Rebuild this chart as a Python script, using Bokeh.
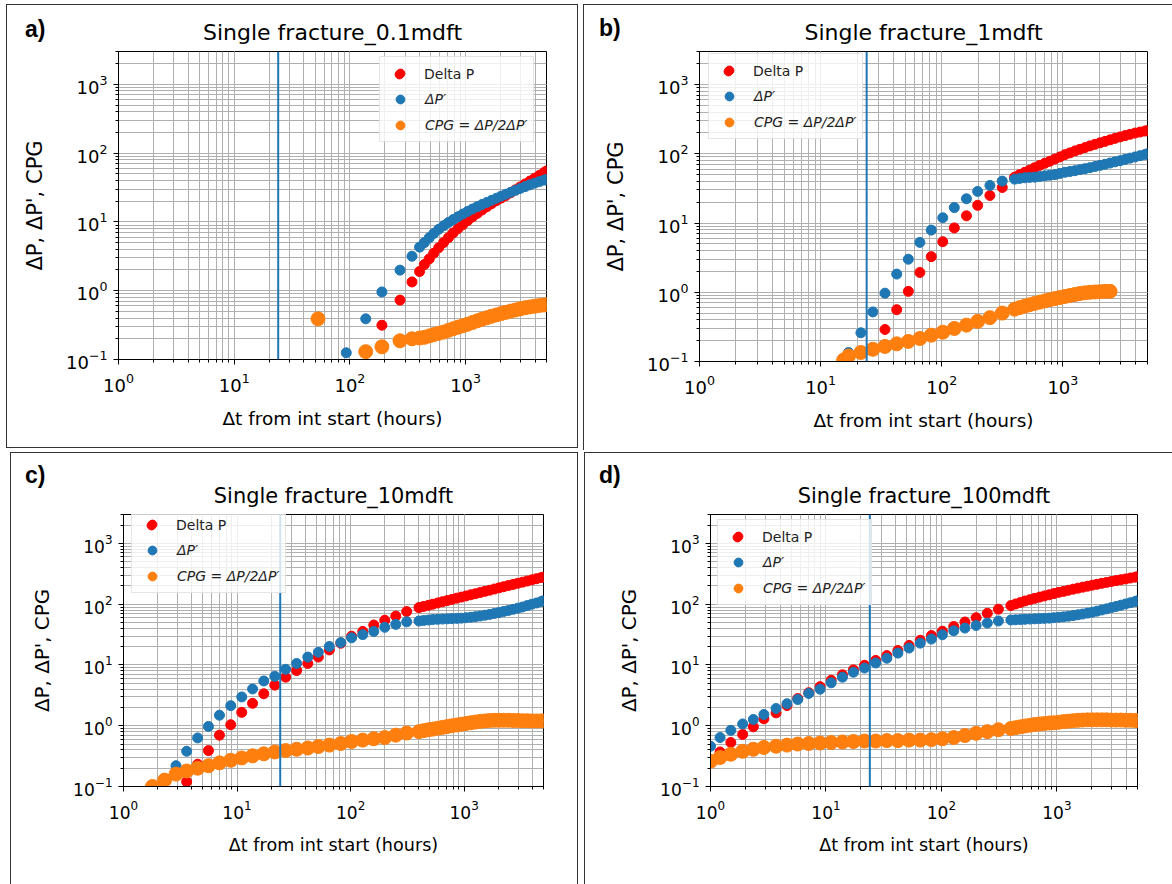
import numpy as np
from bokeh.plotting import figure
from bokeh.models import Span, Legend, LegendItem, Range1d, Div
from bokeh.layouts import row, column
from bokeh.embed import file_html
from bokeh.resources import INLINE

# ---------------- data ----------------
X_RANGE = (1, 5000)
Y_RANGE = (0.1, 3000)
EVENT_HOURS = 24

titles = ["Single fracture_0.1mdft", "Single fracture_1mdft",
          "Single fracture_10mdft", "Single fracture_100mdft"]
letters = ["a)", "b)", "c)", "d)"]
series_names = ["Delta P", "ΔP′", "CPG = ΔP/2ΔP′"]

# dense late-time steps shared by all runs (hours)
t_late = [400, 440, 485, 530, 585, 645, 710, 780, 860, 945, 1040, 1145, 1260, 1385,
          1525, 1675, 1845, 2030, 2230, 2455, 2700, 2970, 3265, 3590, 3950, 4345, 4780, 5000]

# panel a
a_t = [53, 93, 137, 189, 271, 344]
a_dp = [None, None, None, 0.315, 0.73, 1.34]
a_dpd = [None, 0.125, 0.39, 0.96, 1.99, 3.17]
a_cpg = [0.39, None, 0.13, 0.153, 0.187, 0.2]
a_dp_late = [1.9, 2.4, 2.9, 3.5, 4.2, 5.0, 5.9, 6.9, 8.0, 9.1, 10.4, 11.8, 13.3, 14.9,
             16.6, 18.4, 20.3, 22.2, 24.2, 26.5, 29.3, 32.3, 35.6, 39.2, 43.2, 47.6, 52.5, 55.0]
a_dpd_late = [4.3, 5.0, 5.9, 6.8, 7.8, 8.8, 9.8, 10.8, 11.9, 13.0, 14.2, 15.4, 16.6, 17.9,
              19.2, 20.6, 22.1, 23.7, 25.3, 27.0, 28.8, 30.7, 32.6, 34.6, 36.6, 38.6, 40.5, 41.5]
a_cpg_late = [0.205, 0.21, 0.22, 0.23, 0.24, 0.25, 0.265, 0.28, 0.295, 0.31, 0.325, 0.345, 0.365, 0.385,
              0.405, 0.425, 0.445, 0.465, 0.485, 0.505, 0.525, 0.545, 0.565, 0.58, 0.595, 0.61, 0.62, 0.625]

# panel b
b_t = [15.5, 17, 21.5, 27, 34, 42.5, 53, 66, 82, 102, 127, 160, 198, 250, 316]
b_dp = [None, None, None, None, 0.29, 0.56, 1.03, 1.93, 3.27, 5.37, 8.5, 12.7, 18, 25, 32.6]
b_dpd = [None, 0.135, 0.26, 0.52, 0.97, 1.83, 3.0, 5.25, 7.9, 11.9, 16.7, 22.4, 28.6, 34.9, 40.3]
b_cpg = [0.105, 0.12, 0.135, 0.15, 0.165, 0.18, 0.195, 0.215, 0.24, 0.265, 0.3, 0.335, 0.38, 0.43, 0.5]
b_dp_late = [46, 50, 54, 58, 63, 68, 73, 78, 84, 90, 97, 103, 110, 116,
             123, 130, 137, 144, 151, 159, 167, 175, 183, 191, 199, 206, 213, 216]
b_dpd_late = [43, 44, 45, 45.5, 46, 47, 48, 49, 50, 52, 54, 55.5, 57, 59,
              61, 63, 65.5, 68, 70.5, 73.5, 76.5, 79.5, 83, 86.5, 90, 94, 98, 100]
b_cpg_late = [0.57, 0.6, 0.63, 0.66, 0.69, 0.72, 0.75, 0.78, 0.81, 0.84, 0.87, 0.9, 0.93, 0.96,
              0.98, 1.0, 1.01, 1.02, 1.03, 1.03, None, None, None, None, None, None, None, None]

# panel c
c_t = [1.8, 2.3, 2.9, 3.6, 4.5, 5.6, 7.0, 8.8, 11, 13.7, 17.2, 21.5, 26.8, 33.5, 42, 52,
       65, 82, 102, 128, 160, 200, 250, 312]
c_dp = [None, None, None, 0.12, 0.233, 0.39, 0.70, 1.04, 1.66, 2.34, 3.36, 4.66, 6.3, 8.1,
        10.6, 13.5, 17.7, 22.8, 29.8, 35.7, 45.5, 54.6, 63.8, 75.7]
c_dpd = [None, None, 0.22, 0.38, 0.63, 0.975, 1.49, 2.14, 2.98, 4.03, 5.46, 6.5, 8.5, 10.6,
         13.5, 16.2, 20.2, 23.4, 28, 31.6, 35.7, 41.7, 46.6, 51.3]
c_cpg = [0.1, 0.127, 0.16, 0.18, 0.2, 0.22, 0.245, 0.27, 0.295, 0.32, 0.345, 0.37, 0.39, 0.41,
         0.43, 0.455, 0.48, 0.51, 0.55, 0.58, 0.61, 0.64, 0.7, 0.76]
c_dp_late = [88, 92, 96, 100, 105, 110, 115, 120, 126, 131, 137, 143, 149, 156,
             163, 170, 178, 186, 194, 203, 212, 221, 231, 241, 252, 263, 275, 280]
c_dpd_late = [53, 54, 55, 56, 56.5, 57, 57.5, 58, 58.5, 59, 60, 61, 62.5, 64,
              66, 68, 70.5, 73, 76, 79, 82.5, 86, 90, 95, 100, 105, 111, 114]
c_cpg_late = [0.8, 0.83, 0.86, 0.88, 0.91, 0.94, 0.97, 1.0, 1.03, 1.06, 1.09, 1.12, 1.15, 1.18,
              1.2, 1.22, 1.23, 1.23, 1.23, 1.23, 1.22, 1.22, 1.21, 1.21, 1.2, 1.2, 1.2, 1.2]

# panel d
d_t = [1.0, 1.21, 1.5, 1.9, 2.35, 2.9, 3.7, 4.6, 5.7, 7.1, 8.9, 11.1, 13.9, 17.3, 21.6, 27,
       33.7, 42, 52.5, 65.6, 82, 102, 128, 160, 200, 250, 312]
d_dp = [0.26, 0.37, 0.53, 0.72, 0.96, 1.30, 1.63, 2.15, 2.8, 3.5, 4.4, 5.6, 6.9, 8.3, 9.9, 11.9,
        14.3, 17.3, 21, 25.5, 30.5, 36, 43, 51, 60, 71, 83]
d_dpd = [0.46, 0.64, 0.84, 1.07, 1.27, 1.53, 1.92, 2.3, 2.7, 3.4, 4.0, 5.1, 6.3, 7.6, 8.9, 10.8,
         12.9, 15.7, 19, 22.9, 26.7, 31.4, 36.5, 40.5, 44.7, 49, 53]
d_cpg = [0.26, 0.3, 0.34, 0.38, 0.41, 0.44, 0.46, 0.48, 0.5, 0.51, 0.52, 0.53, 0.54, 0.55, 0.56, 0.56,
         0.57, 0.57, 0.58, 0.58, 0.59, 0.61, 0.64, 0.69, 0.75, 0.8, 0.86]
d_dp_late = [95, 101, 107, 113, 119, 125, 131, 137, 143, 150, 157, 163, 170, 177,
             184, 191, 198, 206, 213, 221, 229, 237, 245, 253, 261, 270, 279, 284]
d_dpd_late = [55, 55.5, 56, 56.5, 57, 57.5, 58, 58.5, 59, 60, 61, 62, 63.5, 65,
              67, 69, 71.5, 74, 77, 80.5, 84, 88, 92, 96.5, 101, 106, 111, 114]
d_cpg_late = [0.9, 0.93, 0.96, 0.99, 1.02, 1.05, 1.07, 1.09, 1.11, 1.12, 1.14, 1.17, 1.19, 1.21,
              1.23, 1.24, 1.25, 1.25, 1.25, 1.25, 1.25, 1.24, 1.24, 1.24, 1.23, 1.23, 1.22, 1.22]

# ---------------- styling ----------------
RED = "#ff0000"
BLUE = "#1f77b4"
ORANGE = "#ff7f0e"
GRID = "#b0b0b0"
FONT = "DejaVu Sans"


def to_arr(v):
    return np.array([np.nan if x is None else x for x in v], dtype=float)


def series(t_early, early, late):
    t = np.concatenate([np.array(t_early, dtype=float), np.array(t_late, dtype=float)])
    y = np.concatenate([to_arr(early), to_arr(late)])
    m = ~np.isnan(y)
    return t[m], y[m]


PAD, GW, GH, SP = 5, 30, 22, 4
LEG_H1 = 2 * PAD + 3 * GH + 2 * SP
LEG_H2 = 2 * PAD + GH


def px(v):
    return f"{v:.1f}px"


def make_panel(title, t_early, dp, dpd, cpg, dp_late, dpd_late, cpg_late,
               size, frame, margin, leg_xy, shadow, fs):
    w, h = size
    fl, fr, ft, fb = frame
    p = figure(width=w, height=h, x_axis_type="log", y_axis_type="log",
               x_range=Range1d(*X_RANGE), y_range=Range1d(*Y_RANGE),
               output_backend="svg", toolbar_location=None,
               min_border_left=fl, min_border_right=w - fr,
               min_border_top=ft, min_border_bottom=h - fb,
               title=title, margin=margin)
    p.border_fill_color = None
    p.background_fill_color = "white"
    p.styles = {"box-shadow": shadow, "background-color": "white"}
    p.outline_line_color = "black"
    p.outline_line_width = 1
    p.title.text_font = FONT
    p.title.text_font_size = px(22 * fs)
    p.title.text_font_style = "normal"
    p.title.align = "center"
    p.title.text_color = "black"
    p.title.standoff = 13

    for ax in (p.xaxis[0], p.yaxis[0]):
        ax.axis_line_color = "black"
        ax.major_tick_line_color = "black"
        ax.minor_tick_line_color = "black"
        ax.major_tick_in = 0
        ax.major_tick_out = 5
        ax.minor_tick_in = 0
        ax.minor_tick_out = 3
        ax.major_label_text_font = FONT
        ax.major_label_text_font_size = px(18 * fs)
        ax.major_label_text_color = "black"
        ax.axis_label_text_font = FONT
        ax.axis_label_text_font_style = "normal"
        ax.axis_label_text_color = "black"
    p.xaxis.axis_label = "Δt from int start (hours)"
    p.yaxis.axis_label = "ΔP, ΔP', CPG"
    p.xaxis.axis_label_text_font_size = px(18.5 * fs)
    p.yaxis.axis_label_text_font_size = px(21 * fs)
    p.xaxis.major_label_standoff = 8
    p.xaxis.axis_label_standoff = 13
    p.yaxis.major_label_standoff = 6
    p.yaxis.axis_label_standoff = 16

    for g in (p.xgrid[0], p.ygrid[0]):
        g.grid_line_color = GRID
        g.grid_line_width = 1
        g.minor_grid_line_color = GRID
        g.minor_grid_line_width = 1

    tx, ty = series(t_early, dp, dp_late)
    r1 = p.scatter(tx, ty, size=10, color=RED)
    tx, ty = series(t_early, dpd, dpd_late)
    r2 = p.scatter(tx, ty, size=10, color=BLUE)
    tx, ty = series(t_early, cpg, cpg_late)
    r3 = p.scatter(tx, ty, size=14, color=ORANGE)

    p.add_layout(Span(location=EVENT_HOURS, dimension="height",
                      line_color=BLUE, line_width=2))

    lx, ly = leg_xy
    common = dict(padding=PAD, glyph_width=GW, glyph_height=GH, label_height=GH,
                  spacing=SP, label_standoff=10, label_text_font=FONT,
                  label_text_font_size="14px", label_text_color="#222222")
    leg1 = Legend(items=[LegendItem(label=" ", renderers=[r1]),
                         LegendItem(label=series_names[1], renderers=[r2]),
                         LegendItem(label=series_names[2], renderers=[r3])],
                  location=(lx, ly), border_line_color="#cccccc",
                  background_fill_color="white", background_fill_alpha=0.8,
                  label_text_font_style="italic", **common)
    leg2 = Legend(items=[LegendItem(label=series_names[0], renderers=[r1])],
                  location=(lx, ly + LEG_H1 - LEG_H2), border_line_alpha=0,
                  background_fill_alpha=0, label_text_font_style="normal", **common)
    p.add_layout(leg1)
    p.add_layout(leg2)
    return p


def letter_div(text, left, top):
    return Div(text=text, styles={
        "position": "absolute", "left": f"{left}px", "top": f"{top}px",
        "z-index": "10", "font-family": "Liberation Sans, Arial, sans-serif",
        "font-weight": "bold", "font-size": "23px", "line-height": "23px",
        "color": "black"})


pa = make_panel(titles[0], a_t, a_dp, a_dpd, a_cpg, a_dp_late, a_dpd_late, a_cpg_late,
                size=(572, 444), frame=(112, 540, 47, 355), margin=(4, 5, 2, 6),
                leg_xy=(261, 359 - 58 - LEG_H1), shadow="inset 0 0 0 1px #333333", fs=1.0)
pb = make_panel(titles[1], b_t, b_dp, b_dpd, b_cpg, b_dp_late, b_dpd_late, b_cpg_late,
                size=(589, 446), frame=(116, 564, 44, 357), margin=(4, 0, 0, 0),
                leg_xy=(9, 361 - 55 - LEG_H1), shadow="inset 1px 1px 0 0 #333333", fs=1.0)
pc = make_panel(titles[2], c_t, c_dp, c_dpd, c_cpg, c_dp_late, c_dpd_late, c_cpg_late,
                size=(568, 432), frame=(113, 533, 61, 343), margin=(2, 6, 0, 10),
                leg_xy=(8, 795 - 518 - LEG_H1),
                shadow="inset 1px 1px 0 0 #333333, inset -1px 0 0 0 #333333", fs=0.95)
pd_ = make_panel(titles[3], d_t, d_dp, d_dpd, d_cpg, d_dp_late, d_dpd_late, d_cpg_late,
                 size=(588, 432), frame=(126, 553, 62, 334), margin=(2, 0, 0, 0),
                 leg_xy=(7, 786 - 521 - LEG_H1), shadow="inset 1px 1px 0 0 #333333", fs=0.95)

divs = [letter_div(letters[0], 20, 13), letter_div(letters[1], 594, 12),
        letter_div(letters[2], 20, 459), letter_div(letters[3], 594, 459)]

layout = column(row(pa, pb), row(pc, pd_), *divs)
open("out.html", "w").write(file_html(layout, INLINE))
